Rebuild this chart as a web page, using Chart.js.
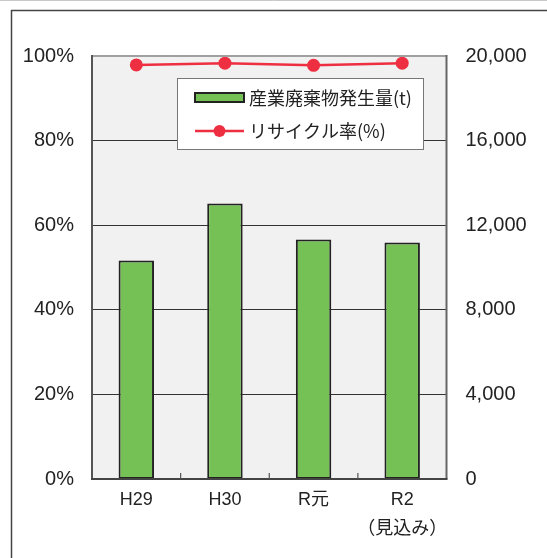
<!DOCTYPE html>
<html>
<head>
<meta charset="utf-8">
<script src="https://cdn.jsdelivr.net/npm/chart.js@4/dist/chart.umd.min.js"></script>
<style>
html,body{margin:0;padding:0;background:#fff;}
#wrap{position:relative;width:547px;height:558px;}
canvas{display:block;}
</style>
</head>
<body>
<div id="wrap"><canvas id="c" width="547" height="558"></canvas></div>
<script>
const categories = ['H29', 'H30', 'R元', ['R2', '（見込み）']];
const wasteTonnes = [10330, 13030, 11320, 11180];
const recycleRate = [97.9, 98.3, 97.8, 98.3];
const rateTicks = [0, 20, 40, 60, 80, 100];
const tonnageTicks = [0, 4000, 8000, 12000, 16000, 20000];
const seriesLabels = ['産業廃棄物発生量(t)', 'リサイクル率(%)'];

const GREEN = '#76c155';
const RED = '#ee2f42';
const FONT = "'Liberation Sans', Arial, 'Noto Sans CJK JP', sans-serif";

const framePlugin = {
  id: 'frames',
  beforeDraw(chart) {
    const ctx = chart.ctx;
    const a = chart.chartArea;
    ctx.save();
    ctx.strokeStyle = '#c8c8c8';
    ctx.lineWidth = 1;
    ctx.beginPath(); ctx.moveTo(0, 0.5); ctx.lineTo(547, 0.5); ctx.stroke();
    ctx.strokeStyle = '#444';
    ctx.lineWidth = 1.5;
    ctx.strokeRect(11.5, 10.5, 700, 700);
    ctx.fillStyle = '#f0f1f0';
    ctx.fillRect(a.left, a.top, a.right - a.left, a.bottom - a.top);
    ctx.restore();
  },
  afterDatasetsDraw(chart) {
    const ctx = chart.ctx;
    const a = chart.chartArea;
    const xs = chart.scales.x;
    ctx.save();
    ctx.lineWidth = 2;
    ctx.strokeStyle = '#a0a0a0';
    ctx.beginPath(); ctx.moveTo(a.left, a.top); ctx.lineTo(a.right, a.top); ctx.stroke();
    ctx.strokeStyle = '#555';
    ctx.beginPath(); ctx.moveTo(a.left, a.top - 1); ctx.lineTo(a.left, a.bottom); ctx.stroke();
    ctx.strokeStyle = '#666';
    ctx.beginPath(); ctx.moveTo(a.right, a.top - 1); ctx.lineTo(a.right, a.bottom); ctx.stroke();
    ctx.strokeStyle = '#444';
    ctx.beginPath(); ctx.moveTo(a.left - 1, a.bottom); ctx.lineTo(a.right + 1, a.bottom); ctx.stroke();
    ctx.lineWidth = 1.2;
    ctx.strokeStyle = '#555';
    for (let i = 0; i < categories.length - 1; i++) {
      const bx = (xs.getPixelForTick(i) + xs.getPixelForTick(i + 1)) / 2;
      ctx.beginPath(); ctx.moveTo(bx, a.bottom); ctx.lineTo(bx, a.bottom - 6); ctx.stroke();
    }
    ctx.restore();
  },
  afterDraw(chart) {
    const ctx = chart.ctx;
    ctx.save();
    const bx = 177.5, by = 78.5, bw = 246, bh = 71;
    ctx.fillStyle = '#fff';
    ctx.fillRect(bx, by, bw, bh);
    ctx.strokeStyle = '#777';
    ctx.lineWidth = 1;
    ctx.strokeRect(bx, by, bw, bh);
    ctx.fillStyle = GREEN;
    ctx.fillRect(195, 93, 49, 9);
    ctx.strokeStyle = '#222';
    ctx.lineWidth = 2;
    ctx.strokeRect(195, 93, 49, 9);
    ctx.strokeStyle = RED;
    ctx.lineWidth = 2.5;
    ctx.beginPath(); ctx.moveTo(195, 131); ctx.lineTo(244, 131); ctx.stroke();
    ctx.fillStyle = RED;
    ctx.beginPath(); ctx.arc(219.5, 131, 6, 0, Math.PI * 2); ctx.fill();
    ctx.fillStyle = '#222';
    ctx.font = "18px 'Noto Sans CJK JP', sans-serif";
    ctx.textBaseline = 'middle';
    ctx.textAlign = 'left';
    ctx.fillText(seriesLabels[0], 249, 98);
    ctx.fillText(seriesLabels[1], 249, 131);
    ctx.restore();
  }
};

Chart.defaults.font.family = FONT;
Chart.defaults.color = '#222';

new Chart(document.getElementById('c'), {
  data: {
    labels: categories,
    datasets: [
      {
        type: 'line',
        label: seriesLabels[1],
        data: recycleRate,
        yAxisID: 'yL',
        borderColor: RED,
        backgroundColor: RED,
        borderWidth: 2.5,
        pointRadius: 6.5,
        pointHoverRadius: 6.5,
        pointBackgroundColor: RED,
        pointBorderColor: RED,
        pointBorderWidth: 0,
        tension: 0,
        order: 0
      },
      {
        type: 'bar',
        label: seriesLabels[0],
        data: wasteTonnes,
        yAxisID: 'yR',
        backgroundColor: GREEN,
        borderColor: '#222',
        borderWidth: 2,
        borderSkipped: false,
        categoryPercentage: 1.0,
        barPercentage: 0.4,
        order: 1
      }
    ]
  },
  options: {
    responsive: false,
    animation: false,
    devicePixelRatio: 1,
    layout: { padding: { top: 56, left: 0, right: 0, bottom: 0 } },
    plugins: { legend: { display: false }, tooltip: { enabled: false } },
    scales: {
      x: {
        grid: { display: false, drawTicks: false },
        border: { display: false },
        ticks: {
          padding: 7,
          font: { size: 18, lineHeight: 1.6 },
          color: '#222',
          maxRotation: 0,
          autoSkip: false
        },
        afterFit(s) { s.height = 79; }
      },
      yL: {
        position: 'left',
        min: rateTicks[0],
        max: rateTicks[rateTicks.length - 1],
        afterBuildTicks(s) { s.ticks = rateTicks.map(v => ({ value: v })); },
        grid: {
          drawTicks: false,
          lineWidth: 1,
          color: c => (c.tick && (c.tick.value === 0 || c.tick.value === 100)) ? 'rgba(0,0,0,0)' : '#333'
        },
        border: { display: false },
        ticks: {
          padding: 18,
          font: { size: 20 },
          color: '#222',
          callback: v => v + '%'
        },
        afterFit(s) { s.width = 92; }
      },
      yR: {
        position: 'right',
        min: tonnageTicks[0],
        max: tonnageTicks[tonnageTicks.length - 1],
        afterBuildTicks(s) { s.ticks = tonnageTicks.map(v => ({ value: v })); },
        grid: { display: false, drawTicks: false },
        border: { display: false },
        ticks: {
          padding: 19,
          font: { size: 20 },
          color: '#222',
          callback: v => v.toLocaleString('en-US')
        },
        afterFit(s) { s.width = 100.5; }
      }
    }
  },
  plugins: [framePlugin]
});
</script>
</body>
</html>
